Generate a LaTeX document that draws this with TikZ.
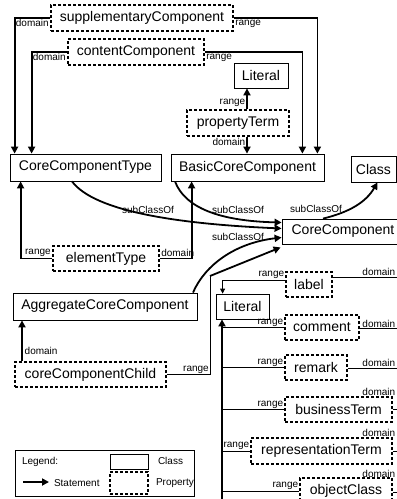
\documentclass[tikz,border=0pt]{standalone}
\usepackage{fontspec}
\setmainfont{Liberation Sans}
\usetikzlibrary{arrows.meta,calc}
\begin{document}
\begin{tikzpicture}[x=1pt,y=-1pt,
  cls/.style={draw, line width=0.8pt, inner sep=0pt, font=\fontsize{14}{16}\selectfont},
  prop/.style={cls, line width=1.2pt, dash pattern=on 3pt off 2pt},
  lbl/.style={font=\fontsize{10}{11}\selectfont, inner sep=0.8pt},
  strong/.style={line width=1.8pt, -{Triangle[length=7pt,width=7pt]}},
  thin/.style={line width=0.9pt},
  thinarrow/.style={line width=0.9pt, -{Triangle[length=5pt,width=5pt]}},
  dlbl/.style={lbl, anchor=south east, xshift=-3.5pt},
]
\useasboundingbox (0,0) rectangle (397,499);
\clip (0,0) rectangle (397,499);

% classes
\node[cls, minimum width=151pt, minimum height=27pt] (cct) at (85.5,167.5) {CoreComponentType};
\node[cls, minimum width=153pt, minimum height=27pt] (bcc) at (247.5,167.5) {BasicCoreComponent};
\node[cls, minimum width=45pt, minimum height=26pt] (classn) at (373.5,169) {Class};
\node[cls, minimum width=122pt, minimum height=25pt] (cc) at (343,231.5) {CoreComponent};
\node[cls, minimum width=54pt, minimum height=25pt] (lit1) at (261,75.5) {Literal};
\node[cls, minimum width=53pt, minimum height=25pt] (lit2) at (242.5,306.5) {Literal};
\node[cls, minimum width=184pt, minimum height=27pt] (acc) at (105,306.5) {AggregateCoreComponent};

% properties
\node[prop, minimum width=182pt, minimum height=26pt] (sc) at (142,18) {supplementaryComponent};
\node[prop, minimum width=136pt, minimum height=26pt] (coc) at (136,52) {contentComponent};
\node[prop, minimum width=102pt, minimum height=26pt] (pt) at (238,123) {propertyTerm};
\node[prop, minimum width=106pt, minimum height=25pt] (et) at (106,258.5) {elementType};
\node[prop, minimum width=151pt, minimum height=25pt] (ccc) at (90.5,374.5) {coreComponentChild};
\node[prop, minimum width=46pt, minimum height=25pt] (lab) at (309,284.5) {label};
\node[prop, minimum width=74pt, minimum height=25pt] (com) at (322,327.5) {comment};
\node[prop, minimum width=62pt, minimum height=25pt] (rem) at (316,367.5) {remark};
\node[prop, minimum width=107pt, minimum height=25pt] (bt) at (338.5,409.5) {businessTerm};
\node[prop, minimum width=141pt, minimum height=26pt] (rt) at (321.5,451) {representationTerm};
\node[prop, minimum width=92pt, minimum height=26pt] (oc) at (346,491) {objectClass};

% top properties
\draw[strong] (sc.west) node[lbl, anchor=north east]{domain} -| ([xshift=5pt]cct.north west);
\draw[strong] (sc.east) node[lbl, anchor=north west]{range} -| ([xshift=-7pt]bcc.north east);
\draw[strong] (coc.west) node[lbl, anchor=north east]{domain} -| ([xshift=22pt]cct.north west);
\draw[strong] (coc.east) node[lbl, anchor=north west]{range} -| ([xshift=-22pt]bcc.north east);
\draw[strong] ([xshift=9pt]pt.north) node[lbl, anchor=south east, yshift=1pt]{range} -- ([xshift=9pt]pt.north |- lit1.south);
\draw[strong] ([xshift=9pt]pt.south) node[lbl, anchor=north east]{domain} -- ([xshift=9pt]pt.south |- bcc.north);

% elementType
\draw[strong] (et.west) node[lbl, anchor=south east]{range} -| ([xshift=11pt]cct.south west);
\draw[strong] (et.east) node[lbl, anchor=south west]{domain} -| ([xshift=21pt]bcc.south west);

% subClassOf
\draw[strong] ([xshift=-13.5pt]cct.south) .. controls (95,212) and (180,224) .. ([yshift=3pt]cc.west);
\node[lbl] (s1) at (148,210) {subClassOf};
\draw[strong] ([xshift=-72.5pt]bcc.south) .. controls (185,208) and (220,221) .. ([yshift=9pt]cc.west);
\node[lbl] (s2) at (238,210) {subClassOf};
\draw[strong] ([xshift=88pt]acc.north) .. controls (205,265) and (235,243) .. ([yshift=-6pt]cc.west);
\node[lbl] (s3) at (238,237) {subClassOf};
\draw[strong] ([xshift=-20pt]cc.north) .. controls (350,212) and (366,202) .. ([xshift=4pt]classn.south);
\node[lbl] (s4) at (316,209) {subClassOf};

% coreComponentChild
\coordinate (ccbend) at (210,276);
\draw[thin] (ccc.east) -- (ccc.east -| ccbend) node[lbl, anchor=south east]{range} -- (ccbend);
\draw[strong] (ccbend) -- ([xshift=-1pt,yshift=-3pt]cc.south west);
\draw[strong] ([xshift=-68.5pt]ccc.north) -- node[lbl, pos=0.25, anchor=west, xshift=1pt]{domain} ([xshift=-68.5pt]ccc.north |- acc.south);

% label
\draw[thinarrow] ([yshift=4.5pt]lab.west) node[lbl, anchor=south east]{range} -| ([xshift=7pt]lit2.north west);
\coordinate (labR) at (400,277);
\draw[thin] ([yshift=7.5pt]lab.east) -- (labR) node[dlbl]{domain};

% trunk to Literal
\coordinate (trunkbot) at (222,505);
\draw[strong] (trunkbot) -- (trunkbot |- lit2.south);
\foreach \n in {com,rem,bt,rt,oc}{
  \draw[thin] (\n.west) node[lbl, anchor=south east]{range} -- (\n.west -| trunkbot);
}
\coordinate (comR) at (400,328.5);
\coordinate (remR) at (400,368);
\coordinate (btR) at (400,409.5);
\coordinate (rtR) at (400,451.5);
\coordinate (ocR) at (400,492);
\draw[thin] ([yshift=-1pt]com.east) -- (comR) node[dlbl]{domain};
\draw[thin] ([yshift=-0.5pt]rem.east) -- (remR) node[dlbl]{domain};
\draw[thin] (bt.east) -- (btR) node[dlbl, yshift=13pt]{domain};
\draw[thin] ([yshift=-0.5pt]rt.east) -- (rtR) node[dlbl, yshift=13.5pt]{domain};
\draw[thin] ([yshift=-1pt]oc.east) -- (ocR) node[dlbl, yshift=13.5pt]{domain};

% legend
\node[draw, line width=0.8pt, minimum width=179pt, minimum height=46pt, inner sep=0pt] (legend) at (104.5,473) {};
\node[cls, minimum width=38pt, minimum height=15pt] (lgclass) at (129,461.5) {};
\node[prop, minimum width=38pt, minimum height=22pt] (lgprop) at (129,483) {};
\node[lbl, anchor=west] (lgtitle) at (21,462) {Legend:};
\node[lbl, anchor=west] (lgclasst) at (157,461) {Class};
\node[lbl, anchor=west] (lgpropt) at (155,483) {Property};
\node[lbl, anchor=west] (lgstmt) at (53,483) {Statement};
\coordinate (la1) at (23,482);
\coordinate (la2) at (49,482);
\draw[strong] (la1) -- (la2);
\end{tikzpicture}
\end{document}
